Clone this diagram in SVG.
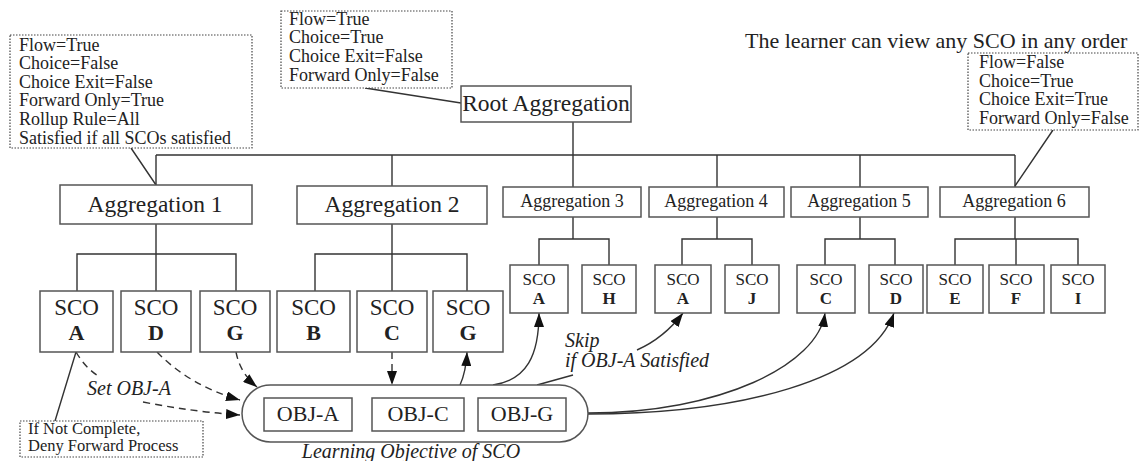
<svg xmlns="http://www.w3.org/2000/svg" width="1142" height="461" viewBox="0 0 1142 461">
  <style>
    .box { fill: #fff; stroke: #555; stroke-width: 1.5; }
    .note { fill: #fff; stroke: #444; stroke-width: 1.2; stroke-dasharray: 1.5 1.5; }
    .wire { fill: none; stroke: #333; stroke-width: 1.4; }
    .dash { fill: none; stroke: #333; stroke-width: 1.4; stroke-dasharray: 7 5; }
    .t { font-family: "Liberation Serif", "Times New Roman", serif; fill: #222; }
    .nt { font-size: 18px; }
    .agg { font-size: 23.5px; text-anchor: middle; }
    .aggs { font-size: 18px; text-anchor: middle; }
    .sco { font-size: 23px; text-anchor: middle; }
    .scol { font-size: 22px; font-weight: bold; text-anchor: middle; }
    .scos { font-size: 17px; text-anchor: middle; }
    .scosl { font-size: 17px; font-weight: bold; text-anchor: middle; }
    .obj { font-size: 22px; text-anchor: middle; }
    .it { font-style: italic; font-size: 20px; }
  </style>
  <defs>
    <marker id="arrow" viewBox="0 0 14 10" refX="14" refY="5" markerWidth="14" markerHeight="10" markerUnits="userSpaceOnUse" orient="auto">
      <path d="M0,0 L14,5 L0,10 Z" fill="#111"/>
    </marker>
  </defs>

  <!-- tree connectors -->
  <g id="connectors">
    <path class="wire" d="M573,122 V187 M156,155 H1015 M156,155 V185 M392,155 V186 M717,155 V187 M860,155 V187 M1015,155 V187"/>
    <path class="wire" d="M156,224 V254 M77,291 V254 H236 V291 M156,254 V291"/>
    <path class="wire" d="M392,224 V254 M315,291 V254 H467 V291 M392,254 V291"/>
    <path class="wire" d="M573,217 V239 M539,265 V239 H609 V265"/>
    <path class="wire" d="M717,217 V239 M682,265 V239 H752 V265"/>
    <path class="wire" d="M860,217 V239 M825,265 V239 H895 V265"/>
    <path class="wire" d="M1015,217 V239 M955,265 V239 H1078 V265 M1016,239 V265"/>
    <!-- note leaders -->
    <path class="wire" d="M131,148 L156,185 M365,88 L461,103 M1053,130 L1015,186 M55,421 L76,352"/>
    <!-- objective set (dashed) -->
    <path class="dash" d="M76,352 Q86,369 100,377"/>
    <path class="dash" d="M143,402 Q195,412 240,415" marker-end="url(#arrow)"/>
    <path class="dash" d="M157,352 Q190,386 240,400" marker-end="url(#arrow)"/>
    <path class="dash" d="M236,352 Q240,373 257,387" marker-end="url(#arrow)"/>
    <path class="dash" d="M392,352 V385" marker-end="url(#arrow)"/>
    <!-- objective use (solid) -->
    <path class="wire" d="M460,385 Q466,372 467,352" marker-end="url(#arrow)"/>
    <path class="wire" d="M493,385 C527,380 539,355 539,313" marker-end="url(#arrow)"/>
    <path class="wire" d="M537,385 L573,375"/>
    <path class="wire" d="M637,350 Q664,338 683,313" marker-end="url(#arrow)"/>
    <path class="wire" d="M588,413 C720,413 818,365 825,313" marker-end="url(#arrow)"/>
    <path class="wire" d="M588,414 C740,414 870,380 894,313" marker-end="url(#arrow)"/>
  </g>

  <!-- sequencing notes -->
  <g id="note-agg1">
    <rect class="note" x="10" y="35" width="242" height="113"/>
    <text class="t nt" x="19" y="51">Flow=True</text>
    <text class="t nt" x="19" y="69">Choice=False</text>
    <text class="t nt" x="19" y="88">Choice Exit=False</text>
    <text class="t nt" x="19" y="106">Forward Only=True</text>
    <text class="t nt" x="19" y="125">Rollup Rule=All</text>
    <text class="t nt" x="19" y="144">Satisfied if all SCOs satisfied</text>
  </g>
  <g id="note-root">
    <rect class="note" x="281" y="11" width="171" height="77"/>
    <text class="t nt" x="289" y="25">Flow=True</text>
    <text class="t nt" x="289" y="43">Choice=True</text>
    <text class="t nt" x="289" y="62">Choice Exit=False</text>
    <text class="t nt" x="289" y="81">Forward Only=False</text>
  </g>
  <g id="note-agg6">
    <text class="t" x="745" y="48" font-size="22">The learner can view any SCO in any order</text>
    <rect class="note" x="968" y="53" width="170" height="77"/>
    <text class="t nt" x="979" y="68">Flow=False</text>
    <text class="t nt" x="979" y="87">Choice=True</text>
    <text class="t nt" x="979" y="105">Choice Exit=True</text>
    <text class="t nt" x="979" y="124">Forward Only=False</text>
  </g>
  <g id="note-scoA">
    <rect class="note" x="20" y="421" width="183" height="36"/>
    <text class="t" x="28" y="434" font-size="16.5">If Not Complete,</text>
    <text class="t" x="28" y="451" font-size="16.5">Deny Forward Process</text>
  </g>

  <!-- aggregations -->
  <g id="root">
    <rect class="box" x="461" y="86" width="170" height="36"/>
    <text class="t agg" x="546" y="111" font-size="20.5">Root Aggregation</text>
  </g>
  <g id="agg1"><rect class="box" x="60" y="185" width="192" height="39"/><text class="t agg" x="155" y="212">Aggregation 1</text></g>
  <g id="agg2"><rect class="box" x="297" y="186" width="190" height="38"/><text class="t agg" x="392" y="212">Aggregation 2</text></g>
  <g id="agg3"><rect class="box" x="503" y="187" width="138" height="30"/><text class="t aggs" x="572" y="207">Aggregation 3</text></g>
  <g id="agg4"><rect class="box" x="649" y="187" width="135" height="30"/><text class="t aggs" x="716" y="207">Aggregation 4</text></g>
  <g id="agg5"><rect class="box" x="791" y="187" width="137" height="30"/><text class="t aggs" x="859" y="207">Aggregation 5</text></g>
  <g id="agg6"><rect class="box" x="940" y="187" width="149" height="30"/><text class="t aggs" x="1014" y="207">Aggregation 6</text></g>

  <!-- SCOs under aggregations 1 and 2 -->
  <g id="sco-a1"><rect class="box" x="40" y="291" width="73" height="61"/><text class="t sco" x="76.5" y="315">SCO</text><text class="t scol" x="76.5" y="340">A</text></g>
  <g id="sco-d1"><rect class="box" x="121" y="291" width="70" height="61"/><text class="t sco" x="156" y="315">SCO</text><text class="t scol" x="156" y="340">D</text></g>
  <g id="sco-g1"><rect class="box" x="200" y="291" width="70" height="61"/><text class="t sco" x="235" y="315">SCO</text><text class="t scol" x="235" y="340">G</text></g>
  <g id="sco-b2"><rect class="box" x="277" y="291" width="73" height="61"/><text class="t sco" x="313.5" y="315">SCO</text><text class="t scol" x="313.5" y="340">B</text></g>
  <g id="sco-c2"><rect class="box" x="357" y="291" width="70" height="61"/><text class="t sco" x="392" y="315">SCO</text><text class="t scol" x="392" y="340">C</text></g>
  <g id="sco-g2"><rect class="box" x="433" y="291" width="70" height="61"/><text class="t sco" x="468" y="315">SCO</text><text class="t scol" x="468" y="340">G</text></g>

  <!-- SCOs under aggregations 3 to 6 -->
  <g id="sco-a3"><rect class="box" x="510" y="265" width="58" height="48"/><text class="t scos" x="539" y="285">SCO</text><text class="t scosl" x="539" y="304">A</text></g>
  <g id="sco-h3"><rect class="box" x="582" y="265" width="54" height="48"/><text class="t scos" x="609" y="285">SCO</text><text class="t scosl" x="609" y="304">H</text></g>
  <g id="sco-a4"><rect class="box" x="655" y="265" width="56" height="48"/><text class="t scos" x="683" y="285">SCO</text><text class="t scosl" x="683" y="304">A</text></g>
  <g id="sco-j4"><rect class="box" x="725" y="265" width="54" height="48"/><text class="t scos" x="752" y="285">SCO</text><text class="t scosl" x="752" y="304">J</text></g>
  <g id="sco-c5"><rect class="box" x="797" y="265" width="58" height="48"/><text class="t scos" x="826" y="285">SCO</text><text class="t scosl" x="826" y="304">C</text></g>
  <g id="sco-d5"><rect class="box" x="869" y="265" width="54" height="48"/><text class="t scos" x="896" y="285">SCO</text><text class="t scosl" x="896" y="304">D</text></g>
  <g id="sco-e6"><rect class="box" x="927" y="265" width="56" height="48"/><text class="t scos" x="955" y="285">SCO</text><text class="t scosl" x="955" y="304">E</text></g>
  <g id="sco-f6"><rect class="box" x="989" y="265" width="55" height="48"/><text class="t scos" x="1016" y="285">SCO</text><text class="t scosl" x="1016" y="304">F</text></g>
  <g id="sco-i6"><rect class="box" x="1051" y="265" width="54" height="48"/><text class="t scos" x="1078" y="285">SCO</text><text class="t scosl" x="1078" y="304">I</text></g>

  <!-- learning objectives -->
  <g id="objectives">
    <rect class="box" x="242" y="385" width="346" height="57" rx="28.5" ry="28.5"/>
    <rect class="box" x="264" y="398" width="88" height="33"/>
    <text class="t obj" x="308" y="421">OBJ-A</text>
    <rect class="box" x="372" y="398" width="92" height="33"/>
    <text class="t obj" x="418" y="421">OBJ-C</text>
    <rect class="box" x="478" y="398" width="88" height="33"/>
    <text class="t obj" x="522" y="421">OBJ-G</text>
    <text class="t it" x="411" y="458" font-size="23" text-anchor="middle">Learning Objective of SCO</text>
  </g>

  <!-- connector labels -->
  <g id="labels">
    <text class="t it" x="87" y="395" font-size="18.5">Set OBJ-A</text>
    <text class="t it" x="565" y="347">Skip</text>
    <text class="t it" x="565" y="367">if OBJ-A Satisfied</text>
  </g>
</svg>
